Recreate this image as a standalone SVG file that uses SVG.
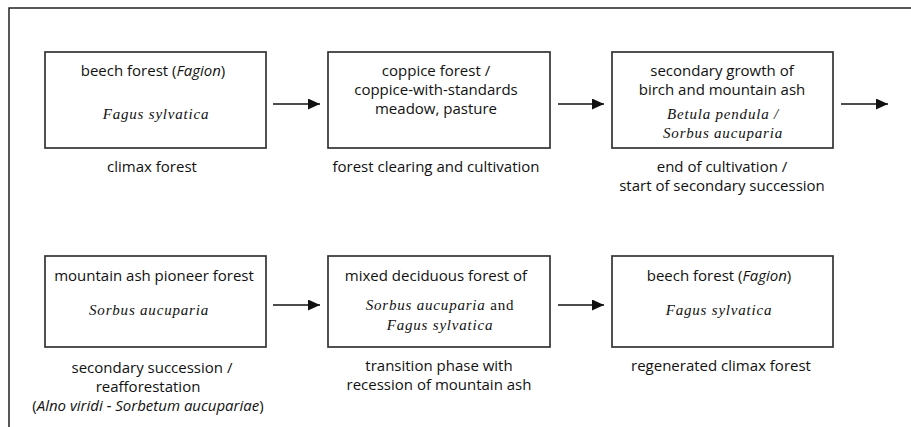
<svg xmlns="http://www.w3.org/2000/svg" width="911" height="427" viewBox="0 0 911 427">
<defs>
<marker id="ah" markerWidth="12" markerHeight="11" refX="12" refY="5.5" orient="auto" markerUnits="userSpaceOnUse">
<path d="M0,0 L12,5.5 L0,11 Z" fill="#111"/>
</marker>
<style>
.box{fill:#fff;stroke:#333;stroke-width:1.7}
.t{font-family:"Open Sans","Noto Sans",sans-serif;font-size:15px;fill:#111;text-anchor:middle}
.s{font-family:"Liberation Serif","Times New Roman",serif;font-size:15px;font-style:italic;letter-spacing:0.8px;fill:#111;text-anchor:middle}
.i{font-style:italic}
.u{font-style:normal}
.c{stroke:#111;stroke-width:1.7;fill:none;marker-end:url(#ah)}
</style>
</defs>
<rect width="911" height="427" fill="#fff"/>
<path d="M9,427 V8 H911" fill="none" stroke="#222" stroke-width="1.5"/>

<g id="n1">
<rect class="box" x="45" y="52" width="221" height="96"/>
<text class="t" x="153" y="76">beech forest (<tspan class="i">Fagion</tspan>)</text>
<text class="s" x="156" y="119">Fagus sylvatica</text>
<text class="t" x="152" y="172">climax forest</text>
</g>

<g id="n2">
<rect class="box" x="328" y="52" width="222" height="96"/>
<text class="t" x="436" y="76">coppice forest /</text>
<text class="t" x="436" y="95">coppice-with-standards</text>
<text class="t" x="436" y="114">meadow, pasture</text>
<text class="t" x="436" y="172">forest clearing and cultivation</text>
</g>

<g id="n3">
<rect class="box" x="612" y="52" width="221" height="96"/>
<text class="t" x="722" y="76">secondary growth of</text>
<text class="t" x="722" y="95">birch and mountain ash</text>
<text class="s" x="723" y="119">Betula pendula /</text>
<text class="s" x="723" y="138">Sorbus aucuparia</text>
<text class="t" x="722" y="172">end of cultivation /</text>
<text class="t" x="722" y="191">start of secondary succession</text>
</g>

<g id="n4">
<rect class="box" x="45" y="256" width="221" height="91"/>
<text class="t" x="154" y="281">mountain ash pioneer forest</text>
<text class="s" x="149" y="315">Sorbus aucuparia</text>
<text class="t" x="152" y="373">secondary succession /</text>
<text class="t" x="148" y="392">reafforestation</text>
<text class="t" x="148" y="411">(<tspan class="i">Alno viridi - Sorbetum aucupariae</tspan>)</text>
</g>

<g id="n5">
<rect class="box" x="328" y="256" width="222" height="91"/>
<text class="t" x="436" y="281">mixed deciduous forest of</text>
<text class="s" x="440" y="310">Sorbus aucuparia <tspan class="u">and</tspan></text>
<text class="s" x="440" y="330">Fagus sylvatica</text>
<text class="t" x="439" y="371">transition phase with</text>
<text class="t" x="439" y="390">recession of mountain ash</text>
</g>

<g id="n6">
<rect class="box" x="612" y="256" width="221" height="91"/>
<text class="t" x="719" y="281">beech forest (<tspan class="i">Fagion</tspan>)</text>
<text class="s" x="719" y="315">Fagus sylvatica</text>
<text class="t" x="721" y="371">regenerated climax forest</text>
</g>

<g id="connectors">
<line class="c" x1="273" y1="104" x2="320" y2="104"/>
<line class="c" x1="558" y1="104" x2="604" y2="104"/>
<line class="c" x1="841" y1="104" x2="888" y2="104"/>
<line class="c" x1="273" y1="305" x2="320" y2="305"/>
<line class="c" x1="558" y1="305" x2="604" y2="305"/>
</g>
</svg>
